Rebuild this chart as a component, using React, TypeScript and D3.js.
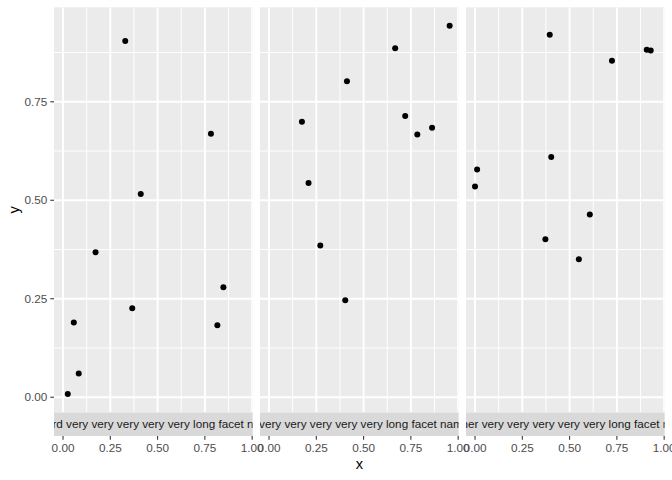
import React from "react";
import * as d3 from "d3";

const facetNames = [
  "a third very very very very very long facet name",
  "a very very very very very long facet name",
  "another very very very very very long facet name",
];

const panel1X = [0.025, 0.057, 0.083, 0.172, 0.329, 0.366, 0.411, 0.782, 0.816, 0.848];
const panel1Y = [0.008, 0.19, 0.06, 0.368, 0.904, 0.226, 0.516, 0.669, 0.183, 0.279];
const panel2X = [0.174, 0.209, 0.271, 0.403, 0.412, 0.667, 0.72, 0.784, 0.862, 0.955];
const panel2Y = [0.699, 0.544, 0.385, 0.246, 0.802, 0.886, 0.714, 0.667, 0.684, 0.943];
const panel3X = [0.0, 0.011, 0.372, 0.395, 0.403, 0.549, 0.607, 0.724, 0.908, 0.929];
const panel3Y = [0.535, 0.578, 0.401, 0.92, 0.61, 0.35, 0.464, 0.854, 0.882, 0.88];

const xTicks = [0, 0.25, 0.5, 0.75, 1.0];
const xTickLabels = ["0.00", "0.25", "0.50", "0.75", "1.00"];
const yTicks = [0, 0.25, 0.5, 0.75];
const yTickLabels = ["0.00", "0.25", "0.50", "0.75"];
const xTitle = "x";
const yTitle = "y";

const W = 672;
const H = 480;
const FONT = "'Liberation Sans', Arial, Helvetica, sans-serif";

export default function App() {
  const panelsX = [panel1X, panel2X, panel3X];
  const panelsY = [panel1Y, panel2Y, panel3Y];
  const allX = panelsX.flat();
  const allY = panelsY.flat();
  const [x0, x1] = d3.extent(allX) as [number, number];
  const [y0, y1] = d3.extent(allY) as [number, number];
  const ex = (x1 - x0) * 0.05;
  const ey = (y1 - y0) * 0.05;

  const left = 54;
  const right = W - 7.33;
  const top = 7.33;
  const panelBottom = 412.5;
  const stripH = 23.5;
  const gap = 7.33;
  const pw = (right - left - 2 * gap) / 3;

  const y = d3.scaleLinear().domain([y0 - ey, y1 + ey]).range([panelBottom, top]);
  const xFor = (i: number) =>
    d3
      .scaleLinear()
      .domain([x0 - ex, x1 + ex])
      .range([left + i * (pw + gap), left + i * (pw + gap) + pw]);

  const yMinor = [0.125, 0.375, 0.625, 0.875];
  const xMinor = [0.125, 0.375, 0.625, 0.875];
  const yDom = y.domain();
  const stripBottom = panelBottom + stripH;

  return (
    <svg width={W} height={H} style={{ display: "block", position: "absolute", left: 0, top: 0 }} fontFamily={FONT}>
      <rect x={0} y={0} width={W} height={H} fill="#ffffff" />
      <defs>
        {[0, 1, 2].map((i) => (
          <clipPath id={`strip-clip-${i}`} key={i}>
            <rect x={left + i * (pw + gap)} y={panelBottom} width={pw} height={stripH} />
          </clipPath>
        ))}
        {[0, 1, 2].map((i) => (
          <clipPath id={`panel-clip-${i}`} key={i}>
            <rect x={left + i * (pw + gap)} y={top} width={pw} height={panelBottom - top} />
          </clipPath>
        ))}
      </defs>
      {[0, 1, 2].map((i) => {
        const x = xFor(i);
        const px = left + i * (pw + gap);
        return (
          <g key={i}>
            <rect x={px} y={top} width={pw} height={panelBottom - top} fill="#EBEBEB" />
            <g clipPath={`url(#panel-clip-${i})`}>
              {yMinor
                .filter((v) => v > yDom[0] && v < yDom[1])
                .map((v) => (
                  <line key={`ym${v}`} x1={px} x2={px + pw} y1={y(v)} y2={y(v)} stroke="#ffffff" strokeWidth={0.95} />
                ))}
              {xMinor.map((v) => (
                <line key={`xm${v}`} x1={x(v)} x2={x(v)} y1={top} y2={panelBottom} stroke="#ffffff" strokeWidth={0.95} />
              ))}
              {yTicks.map((v) => (
                <line key={`yM${v}`} x1={px} x2={px + pw} y1={y(v)} y2={y(v)} stroke="#ffffff" strokeWidth={1.9} />
              ))}
              {xTicks.map((v) => (
                <line key={`xM${v}`} x1={x(v)} x2={x(v)} y1={top} y2={panelBottom} stroke="#ffffff" strokeWidth={1.9} />
              ))}
              {panelsX[i].map((v, j) => (
                <circle key={j} cx={x(v)} cy={y(panelsY[i][j])} r={3} fill="#000000" />
              ))}
            </g>
            <rect x={px} y={panelBottom} width={pw} height={stripH} fill="#D9D9D9" />
            <text
              clipPath={`url(#strip-clip-${i})`}
              x={px + pw / 2}
              y={panelBottom + stripH / 2 + 4.2}
              textAnchor="middle"
              fontSize={11.73}
              fill="#1A1A1A"
            >
              {facetNames[i]}
            </text>
            {xTicks.map((v, k) => (
              <g key={`xt${v}`}>
                <line x1={x(v)} x2={x(v)} y1={stripBottom} y2={stripBottom + 3.67} stroke="#333333" strokeWidth={1.07} />
                <text x={x(v)} y={stripBottom + 15.6} textAnchor="middle" fontSize={11.73} fill="#4D4D4D">
                  {xTickLabels[k]}
                </text>
              </g>
            ))}
          </g>
        );
      })}
      {yTicks.map((v, k) => (
        <g key={`yt${v}`}>
          <line x1={left - 3.67} x2={left} y1={y(v)} y2={y(v)} stroke="#333333" strokeWidth={1.07} />
          <text x={left - 3.67 - 2.93} y={y(v) + 4.2} textAnchor="end" fontSize={11.73} fill="#4D4D4D">
            {yTickLabels[k]}
          </text>
        </g>
      ))}
      <text x={(left + right) / 2} y={469} textAnchor="middle" fontSize={14.67} fill="#000000">
        {xTitle}
      </text>
      <text
        transform={`translate(${18.5},${(top + panelBottom) / 2}) rotate(-90)`}
        textAnchor="middle"
        fontSize={14.67}
        fill="#000000"
      >
        {yTitle}
      </text>
    </svg>
  );
}
